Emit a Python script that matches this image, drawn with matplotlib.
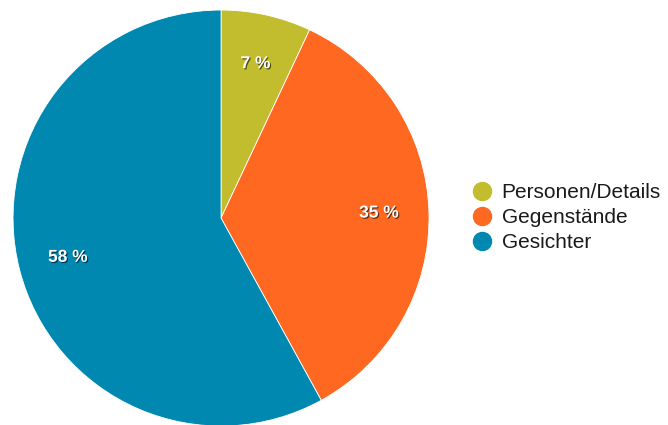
import matplotlib.pyplot as plt
import matplotlib.patheffects as pe
from matplotlib.lines import Line2D

plt.rcParams['font.family'] = ['Liberation Sans', 'DejaVu Sans']

categories = ['Personen/Details', 'Gegenstände', 'Gesichter']
shares = [7, 35, 58]
colors = ['#c2bc2f', '#fe6821', '#0088b0']

fig = plt.figure(figsize=(6.68, 4.25), dpi=100)
ax = fig.add_axes([0.0195, -0.0024, 0.6228, 0.9788])

wedges, texts, autotexts = ax.pie(
    shares, colors=colors, startangle=90, counterclock=False,
    autopct='%d %%', pctdistance=0.76, radius=1.0,
    wedgeprops={'linewidth': 0.6, 'edgecolor': 'white'},
)
for w in wedges:
    w.set_clip_on(False)

# weiße, fette Prozentwerte mit leichtem Schlagschatten
shadow = [pe.withSimplePatchShadow(offset=(0.8, -0.8), shadow_rgbFace='black', alpha=0.6)]
for t in autotexts:
    t.set_color('white')
    t.set_fontweight('bold')
    t.set_fontsize(12.5)
    t.set_path_effects(shadow)

ax.set_xlim(-1, 1)
ax.set_ylim(-1, 1)
ax.set_aspect('equal')
ax.axis('off')

handles = [Line2D([], [], linestyle='none', marker='o', markersize=13,
                  markerfacecolor=c, markeredgecolor=c) for c in colors]
fig.legend(handles, categories, loc='center left', bbox_to_anchor=(0.69, 0.488),
           frameon=False, fontsize=15, handlelength=1.0, handletextpad=0.45,
           labelspacing=0.3, borderpad=0, labelcolor='#1a1a1a')

fig.savefig('out.png', dpi=100, facecolor='white')
